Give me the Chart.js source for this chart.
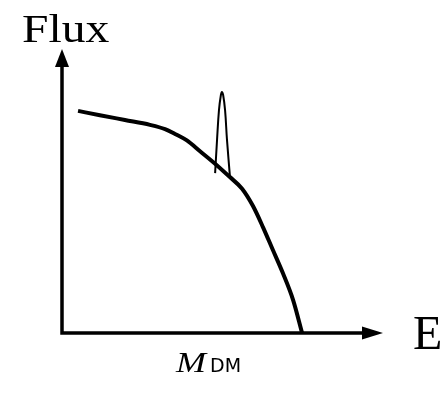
<!DOCTYPE html>
<html lang="en">
<head>
    <meta charset="UTF-8">
    <title>Flux vs E</title>
    <script src="https://cdn.jsdelivr.net/npm/chart.js"></script>
    <style>
        body { margin: 0; background: #fff; }
    </style>
</head>
<body>
    <div style="width: 441px; height: 394px">
        <canvas id="myChart"></canvas>
    </div>
    <script>
        // continuum spectrum (arbitrary units)
        const energy = [0.50, 1.18, 1.96, 2.74, 3.21, 3.52, 3.89, 4.30, 4.83, 5.23, 5.61, 5.95, 6.26, 6.57, 6.88, 7.20, 7.48];
        const flux = [7.82, 7.67, 7.50, 7.33, 7.18, 7.01, 6.78, 6.40, 5.90, 5.49, 5.08, 4.47, 3.73, 2.92, 2.11, 1.16, 0.0];

        // line at M_DM
        const lineEnergy = [4.77, 4.83, 4.89, 4.95, 4.98, 5.02, 5.08, 5.14, 5.23];
        const lineFlux = [5.63, 6.80, 7.85, 8.38, 8.49, 8.38, 7.85, 6.80, 5.53];

        const toPoints = (xs, ys) => xs.map((x, i) => ({ x: x, y: ys[i] }));

        // axes with arrows + labels
        const axesPlugin = {
            id: 'axes',
            afterDraw(chart) {
                const ctx = chart.ctx;
                const a = chart.chartArea;
                ctx.save();
                ctx.strokeStyle = '#000';
                ctx.fillStyle = '#000';
                ctx.lineWidth = 3.5;
                ctx.beginPath();
                ctx.moveTo(a.left, a.top + 12);
                ctx.lineTo(a.left, a.bottom);
                ctx.lineTo(a.right - 12, a.bottom);
                ctx.stroke();

                // arrow heads
                ctx.beginPath();
                ctx.moveTo(a.left, a.top);
                ctx.lineTo(a.left - 7, a.top + 18);
                ctx.lineTo(a.left + 7, a.top + 18);
                ctx.closePath();
                ctx.fill();
                ctx.beginPath();
                ctx.moveTo(a.right, a.bottom);
                ctx.lineTo(a.right - 21, a.bottom - 6.5);
                ctx.lineTo(a.right - 21, a.bottom + 6.5);
                ctx.closePath();
                ctx.fill();

                const label = (text, font, x, y, sx) => {
                    ctx.save();
                    ctx.font = font;
                    ctx.textBaseline = 'alphabetic';
                    ctx.translate(x, y);
                    ctx.scale(sx, 1);
                    ctx.fillText(text, 0, 0);
                    ctx.restore();
                };
                label('Flux', '41px "Liberation Serif"', 22, 42, 1.16);
                label('E', '48px "Liberation Serif"', 413, 349, 1.0);
                label('M', 'italic 30px "Liberation Serif"', 176, 372, 1.2);
                label('DM', '19px "DejaVu Sans"', 210, 372, 1.0);
                ctx.restore();
            }
        };

        const ctx = document.getElementById('myChart').getContext('2d');
        const myChart = new Chart(ctx, {
            type: 'line',
            data: {
                datasets: [
                    {
                        label: 'continuum',
                        data: toPoints(energy, flux),
                        borderColor: '#000',
                        borderWidth: 4,
                        pointRadius: 0,
                        cubicInterpolationMode: 'monotone',
                        fill: false
                    },
                    {
                        label: 'line',
                        data: toPoints(lineEnergy, lineFlux),
                        borderColor: '#000',
                        borderWidth: 2,
                        pointRadius: 0,
                        tension: 0.4,
                        fill: false
                    }
                ]
            },
            options: {
                responsive: true,
                maintainAspectRatio: false,
                animation: false,
                layout: {
                    padding: { left: 62, right: 58, top: 49, bottom: 61 }
                },
                plugins: {
                    legend: { display: false },
                    tooltip: { enabled: false }
                },
                scales: {
                    x: { type: 'linear', min: 0, max: 10, display: false },
                    y: { min: 0, max: 10, display: false }
                }
            },
            plugins: [axesPlugin]
        });
    </script>
</body>
</html>
